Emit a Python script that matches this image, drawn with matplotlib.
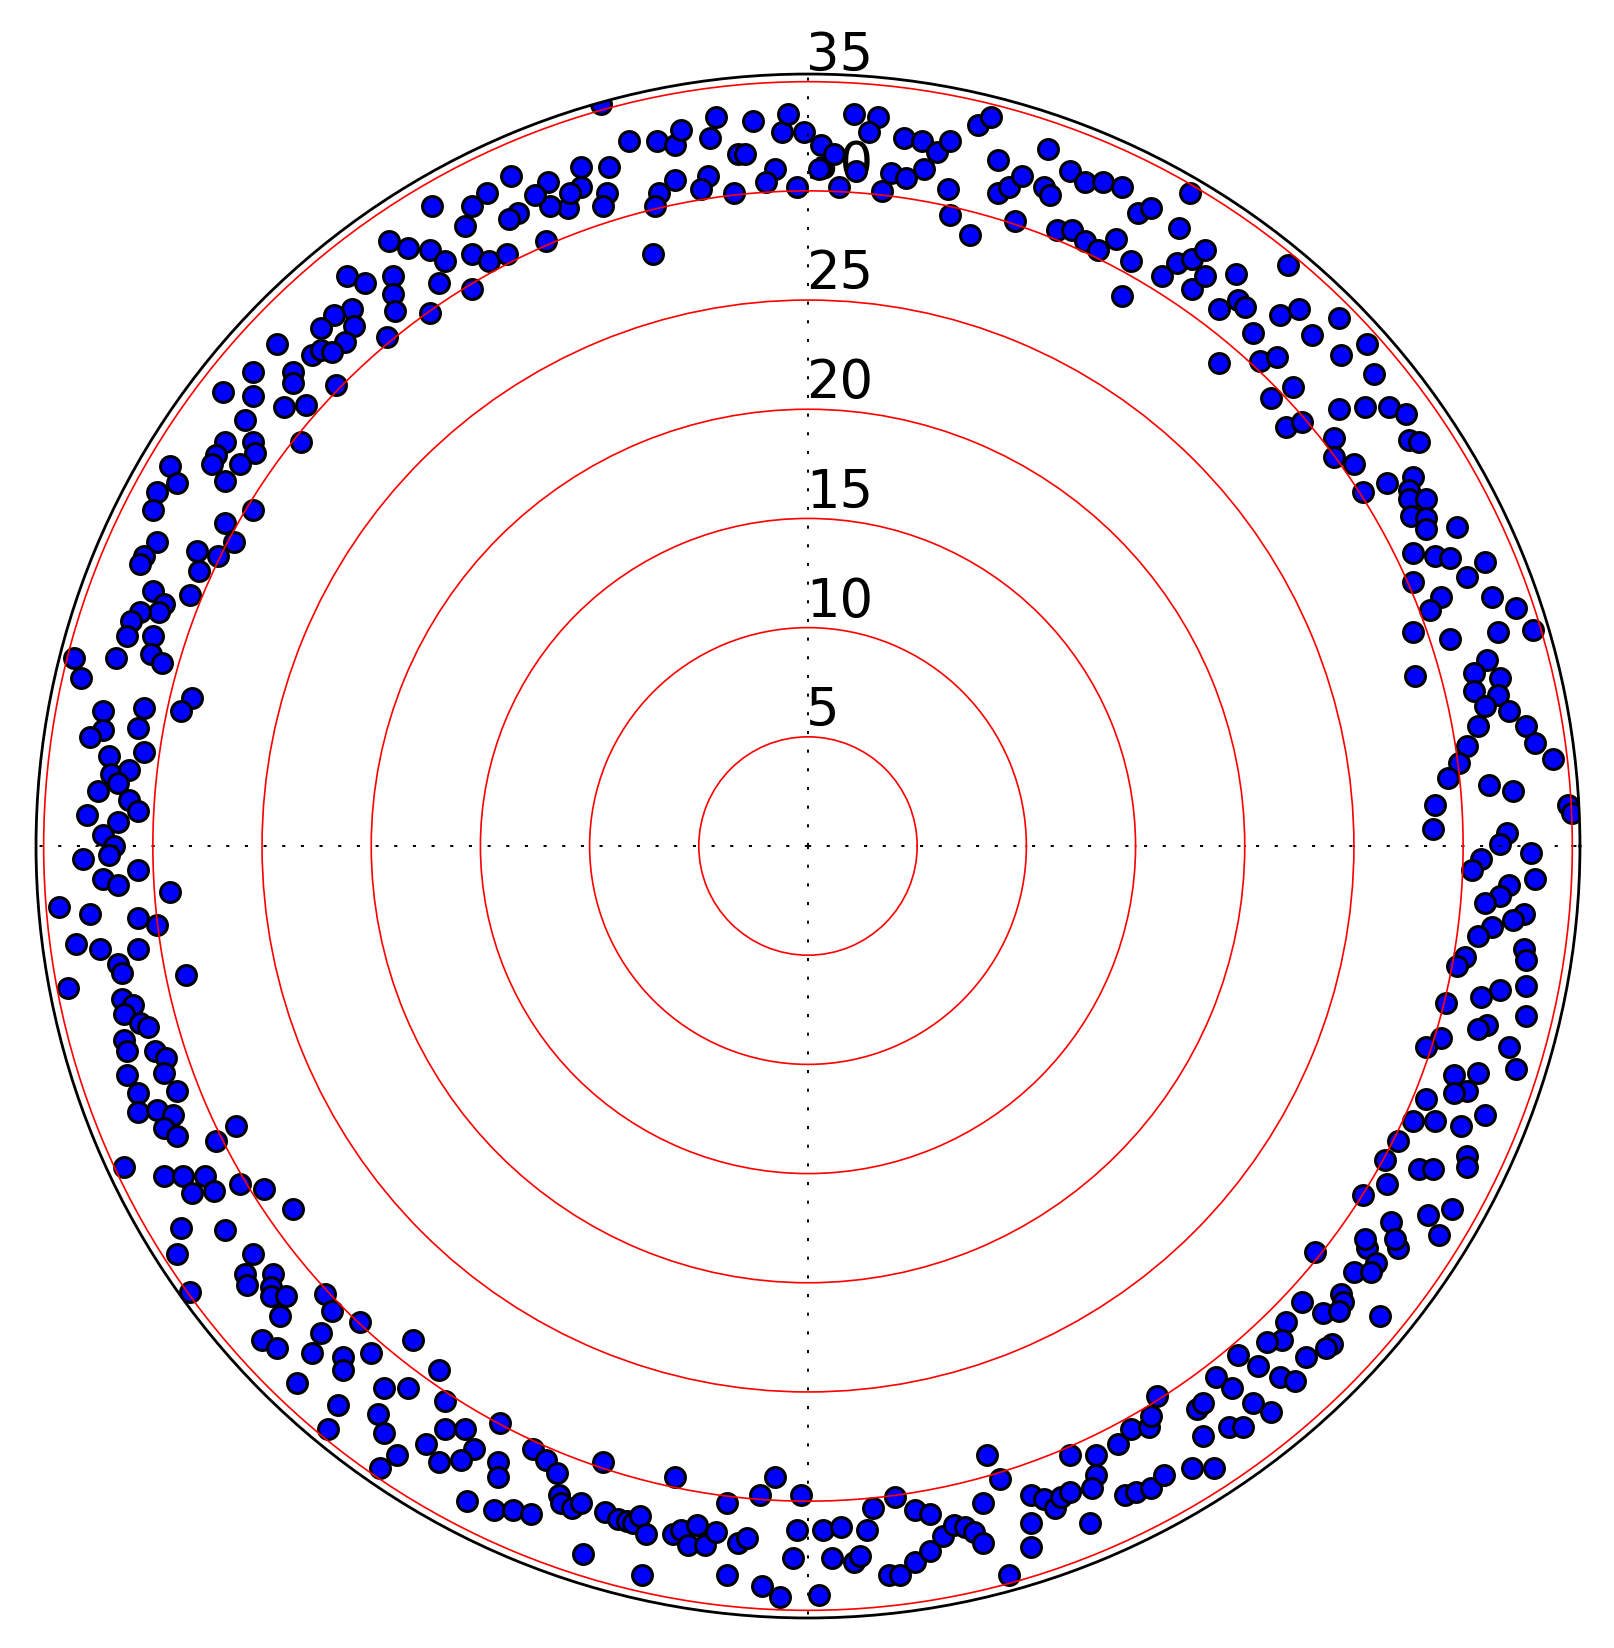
import numpy as np
import matplotlib
matplotlib.use('Agg')
import matplotlib.pyplot as plt
import matplotlib.transforms as mtransforms

# point positions, as x / y in radial units
# (x to the right, y up, origin at the centre of the polar plot)
top_left = [
    (-9.5, 34.0), (-8.2, 32.3), (-6.9, 32.3), (-6.1, 32.1), (-5.8, 32.8), (-4.5, 32.4), (-4.2, 33.4),
    (-2.5, 33.2), (-3.2, 31.7), (-2.9, 31.7), (-1.2, 32.7), (-0.9, 33.5), (-0.2, 32.7), (-1.5, 31.0),
    (-1.9, 30.4), (-0.5, 30.2), (-3.4, 29.9), (-4.6, 30.7), (-4.9, 30.1), (-6.1, 30.5), (-6.8, 29.9),
    (-7.0, 29.3), (-7.1, 27.1), (-9.1, 31.1), (-10.4, 31.1), (-10.4, 30.2), (-9.2, 29.9), (-9.4, 29.3),
    (-11.0, 29.2), (-10.9, 29.9), (-11.8, 29.3), (-11.9, 30.4), (-12.5, 29.8), (-13.3, 29.0),
    (-13.7, 28.7), (-13.6, 30.7), (-14.7, 29.9), (-15.4, 29.3), (-15.7, 28.4), (-17.2, 29.3),
    (-18.3, 27.4), (-17.3, 27.3), (-16.6, 26.8), (-15.4, 27.1), (-14.6, 26.8), (-13.8, 27.1),
    (-12.0, 27.7), (-16.9, 25.8), (-15.4, 25.5), (-17.3, 24.4),
]
north_west = [
    (-19.2, 27.7), (-21.1, 26.1), (-20.3, 25.8), (-19.0, 26.1), (-19.0, 25.3), (-18.9, 24.5),
    (-20.9, 24.6), (-21.7, 24.3), (-20.8, 23.8), (-22.3, 23.7), (-21.2, 23.1), (-19.3, 23.3),
    (-24.3, 23.0), (-22.7, 22.5), (-22.3, 22.7), (-21.8, 22.6), (-25.4, 21.7), (-23.6, 21.7),
    (-23.6, 21.2), (-21.6, 21.1), (-26.8, 20.8), (-25.4, 20.6), (-24.0, 20.1), (-23.0, 20.2),
]
west_upper = [
    (-25.8, 19.5), (-26.7, 18.5), (-25.4, 18.5), (-25.3, 18.0), (-27.1, 17.9), (-27.3, 17.5),
    (-26.0, 17.5), (-26.7, 16.7), (-23.2, 18.5), (-29.2, 17.4), (-28.9, 16.6), (-29.8, 16.2),
    (-30.0, 15.4), (-25.4, 15.4), (-26.7, 14.8), (-26.3, 13.9), (-27.0, 13.3), (-28.0, 13.5),
    (-27.9, 12.6), (-28.3, 11.5), (-29.8, 13.9), (-30.4, 13.3), (-30.6, 12.9), (-30.0, 11.7),
    (-29.5, 11.1), (-29.7, 10.7), (-30.6, 10.7), (-31.0, 10.3), (-31.2, 9.6), (-30.0, 9.6),
    (-30.1, 8.8), (-29.6, 8.4), (-31.7, 8.6), (-33.6, 8.6), (-33.3, 7.7), (-28.2, 6.8), (-28.7, 6.2),
    (-32.3, 6.2), (-30.4, 6.3), (-30.7, 5.4), (-32.3, 5.3), (-32.9, 5.0), (-32.0, 4.1), (-30.4, 4.3),
    (-31.9, 3.3), (-31.1, 3.5), (-31.6, 2.9), (-32.5, 2.5), (-31.1, 2.1), (-30.7, 1.6), (-33.0, 1.4),
    (-31.6, 1.1),
]
west_lower = [
    (-32.3, 0.5), (-31.8, 0.0), (-32.0, -0.4), (-33.2, -0.6), (-30.7, -1.1), (-32.3, -1.5),
    (-31.6, -1.8), (-29.2, -2.1), (-34.3, -2.8), (-32.9, -3.1), (-30.7, -3.3), (-29.8, -3.6),
    (-33.5, -4.5), (-32.4, -4.7), (-30.7, -4.7), (-31.6, -5.4), (-31.4, -5.8), (-28.5, -5.9),
    (-33.9, -6.5), (-31.4, -7.0), (-30.9, -7.3), (-31.3, -7.7), (-30.6, -8.1), (-30.2, -8.3),
    (-31.3, -8.9), (-31.2, -9.4), (-29.9, -9.4), (-29.4, -9.7), (-29.5, -10.4), (-31.2, -10.5),
    (-30.7, -11.3), (-28.9, -11.2), (-30.7, -12.2), (-29.8, -12.1), (-29.1, -12.3), (-29.5, -12.9),
    (-28.9, -13.3), (-26.2, -12.8), (-27.1, -13.5), (-31.3, -14.7), (-29.5, -15.1), (-28.6, -15.1),
    (-27.6, -15.1), (-28.2, -15.9), (-27.2, -15.8), (-26.0, -15.5), (-24.9, -15.7), (-23.6, -16.6),
    (-28.7, -17.5), (-26.7, -17.6),
]
south_west = [
    (-28.9, -18.7), (-25.4, -18.7), (-25.8, -19.6), (-25.7, -20.1), (-24.5, -19.6), (-24.6, -20.2),
    (-24.6, -20.6), (-23.9, -20.6), (-24.2, -21.5), (-28.3, -20.4), (-22.1, -20.5), (-21.8, -21.3),
    (-22.3, -22.3), (-20.5, -21.8), (-25.0, -22.6), (-24.3, -23.0), (-22.7, -23.2), (-21.3, -23.4),
    (-21.3, -24.0), (-20.0, -23.2), (-23.4, -24.6), (-19.4, -24.8), (-21.5, -25.6), (-19.7, -26.0),
    (-19.4, -26.9), (-22.0, -26.7), (-18.8, -27.9), (-19.6, -28.5),
]
bottom_left = [
    (-18.1, -22.6), (-16.9, -24.0), (-18.3, -24.8), (-16.6, -25.4), (-14.1, -26.4), (-16.6, -26.7),
    (-15.7, -26.7), (-17.5, -27.4), (-15.3, -27.6), (-16.9, -28.2), (-15.9, -28.1), (-14.2, -28.2),
    (-14.2, -28.9), (-12.6, -27.6), (-12.0, -28.1), (-11.5, -28.7), (-9.4, -28.2), (-6.1, -28.9),
    (-15.6, -30.0), (-14.4, -30.4), (-13.5, -30.4), (-12.7, -30.6), (-11.4, -29.7), (-11.3, -30.1),
    (-10.8, -30.3), (-10.4, -30.1), (-9.3, -30.5), (-8.7, -30.8), (-8.3, -30.9), (-8.0, -31.0),
    (-7.7, -30.7), (-7.4, -31.5), (-6.2, -31.5), (-5.8, -31.3), (-5.1, -31.1), (-5.5, -32.0),
    (-4.7, -32.0), (-4.2, -31.4), (-3.7, -30.1), (-2.2, -29.7), (-1.5, -28.9), (-3.2, -31.9),
    (-2.8, -31.7), (-0.5, -31.3), (-0.7, -32.6), (-0.3, -29.7), (-10.3, -32.4), (-7.6, -33.4),
    (-3.7, -33.4), (-2.1, -33.9), (-1.3, -34.4),
]
bottom_right = [
    (0.5, -34.3), (0.7, -31.3), (1.5, -31.2), (2.7, -31.3), (3.0, -30.3), (4.0, -29.8), (1.1, -32.6),
    (2.1, -32.8), (2.4, -32.5), (3.7, -33.4), (4.2, -33.4), (4.9, -32.8), (5.6, -32.3), (4.9, -30.4),
    (5.6, -30.6), (6.2, -31.6), (6.7, -31.1), (7.2, -31.2), (7.6, -31.4), (8.0, -31.9), (8.0, -30.1),
    (8.2, -27.9), (8.8, -29.0), (9.2, -33.4), (10.2, -29.7), (10.8, -29.9), (11.3, -30.3),
    (11.6, -29.8), (12.0, -29.6), (10.2, -31.0), (10.2, -32.1), (12.0, -27.9), (13.2, -27.9),
    (13.2, -28.8), (13.0, -29.4), (12.9, -31.0), (14.2, -27.4), (14.8, -26.7), (15.6, -26.6),
    (15.7, -26.1), (16.0, -25.2), (14.5, -29.7), (15.0, -29.6), (15.7, -29.4), (16.3, -28.8),
    (17.6, -28.5), (17.8, -25.8), (18.1, -25.5), (18.1, -27.0),
]
south_east = [
    (23.2, -18.6), (25.6, -18.4), (27.0, -18.4), (26.0, -19.1), (25.0, -19.5), (25.8, -19.5),
    (24.4, -20.5), (24.5, -20.9), (22.6, -20.9), (23.6, -21.4), (24.3, -21.3), (26.2, -21.5),
    (21.9, -21.8), (21.7, -22.6), (21.0, -22.7), (19.7, -23.3), (20.6, -23.8), (24.0, -22.8),
    (23.7, -23.0), (22.8, -23.4), (21.6, -24.3), (22.3, -24.5), (18.7, -24.3), (19.4, -24.8),
    (20.4, -25.5), (21.2, -25.9), (19.3, -26.6), (19.9, -26.6), (18.6, -28.5),
]
east_lower = [
    (28.6, 0.8), (32.0, 0.6), (31.7, 0.1), (33.1, -0.3), (30.8, -0.6), (30.4, -1.1), (33.3, -1.5),
    (32.1, -1.8), (31.7, -2.3), (31.0, -2.6), (32.8, -3.1), (32.3, -3.4), (31.3, -3.7), (30.7, -4.1),
    (32.8, -4.7), (32.9, -5.2), (30.1, -5.1), (29.7, -5.5), (31.7, -6.6), (30.8, -6.9), (32.9, -6.4),
    (29.2, -7.2), (32.9, -7.8), (31.1, -8.2), (30.7, -8.4), (29.0, -8.8), (28.3, -9.2), (32.1, -9.2),
    (32.4, -10.2), (29.6, -10.5), (30.7, -10.4), (30.2, -11.2), (29.6, -11.3), (28.3, -11.6),
    (27.7, -12.6), (28.7, -12.6), (29.9, -12.8), (31.0, -12.3), (27.0, -13.5), (26.4, -14.4),
    (28.0, -14.8), (28.6, -14.8), (30.2, -14.2), (30.2, -14.7), (26.5, -15.5), (25.4, -16.0),
    (26.7, -17.2), (28.4, -16.9), (29.5, -16.6), (25.5, -18.0), (26.9, -18.0), (28.9, -17.8),
]
east_upper = [
    (24.3, 20.0), (25.5, 20.1), (26.6, 20.1), (27.4, 19.8), (21.9, 19.2), (22.6, 19.4), (27.5, 18.6),
    (28.0, 18.5), (24.1, 18.7), (24.1, 17.8), (25.0, 17.5), (25.4, 16.2), (26.5, 16.6), (27.7, 16.9),
    (27.5, 16.3), (27.5, 15.9), (28.3, 15.9), (27.6, 15.1), (28.3, 15.0), (28.3, 14.5), (29.7, 14.6),
    (27.7, 13.4), (28.7, 13.3), (29.4, 13.2), (31.0, 13.0), (30.2, 12.3), (27.7, 12.1), (29.0, 11.4),
    (28.5, 10.8), (31.3, 11.4), (32.4, 10.9), (33.2, 9.9), (27.7, 9.8), (29.4, 9.5), (31.6, 9.8),
    (27.8, 7.8), (31.1, 8.5), (30.5, 7.9), (31.7, 7.7), (30.5, 7.1), (31.6, 6.9), (31.0, 6.4),
    (32.1, 6.2), (30.7, 5.5), (32.9, 5.5), (30.2, 4.6), (33.3, 4.7), (29.8, 3.8), (34.1, 4.0),
    (29.3, 3.1), (31.2, 2.8), (32.3, 2.5), (28.7, 1.9), (34.8, 1.9), (35.0, 1.5),
]
north_east = [
    (22.0, 26.6), (19.6, 26.2), (19.7, 25.0), (20.0, 24.7), (18.8, 24.6), (21.6, 24.3), (22.5, 24.6),
    (24.3, 24.2), (20.4, 23.5), (23.1, 23.4), (25.6, 23.0), (24.4, 22.5), (25.9, 21.6), (18.8, 22.1),
    (20.7, 22.2), (21.5, 22.4), (22.2, 21.0), (21.2, 20.5),
]
top_right = [
    (2.1, 33.5), (3.2, 33.4), (2.8, 32.7), (0.6, 32.1), (1.2, 31.7), (0.5, 31.0), (2.2, 30.9),
    (1.4, 30.2), (3.4, 30.0), (3.8, 30.8), (4.5, 30.6), (5.3, 31.0), (4.4, 32.4), (5.2, 32.3),
    (5.9, 31.8), (6.5, 32.3), (6.4, 30.1), (6.5, 28.9), (7.4, 28.0), (7.8, 33.0), (8.4, 33.4),
    (8.7, 31.4), (8.7, 29.9), (9.2, 30.2), (9.8, 30.7), (9.5, 28.6), (10.8, 30.2), (11.1, 29.8),
    (11.0, 31.9), (12.0, 30.9), (12.7, 30.4), (13.5, 30.4), (14.4, 30.2), (17.5, 29.9), (15.1, 29.0),
    (15.7, 29.2), (17.0, 28.3), (11.4, 28.2), (12.1, 28.2), (12.7, 27.7), (13.3, 27.3), (14.1, 27.8),
    (14.8, 26.8), (14.4, 25.2), (16.2, 26.1), (16.9, 26.7), (17.6, 26.9), (18.2, 27.3), (17.6, 25.5),
    (18.2, 26.1),
]

r_ticks = [5, 10, 15, 20, 25, 30, 35]
r_max = 35.35


def to_polar(pts):
    a = np.array(pts, dtype=float)
    return np.arctan2(a[:, 1], a[:, 0]), np.hypot(a[:, 0], a[:, 1])


fig = plt.figure(figsize=(16.15, 16.49), dpi=100)
ax = fig.add_axes([0.0223, 0.0182, 0.9560, 0.9363], projection='polar')

groups = [top_left, north_west, west_upper, west_lower, south_west, bottom_left,
          bottom_right, south_east, east_lower, east_upper, north_east, top_right]
for pts in groups:
    th, r = to_polar(pts)
    ax.plot(th, r, 'o', ms=14.3, mfc='#0000ff', mec='k', mew=2.2, zorder=2)

ax.set_ylim(0, r_max)
ax.set_axisbelow(False)
ax.set_rgrids(r_ticks, labels=[''] * len(r_ticks))
ax.set_thetagrids([0, 90, 180, 270], labels=[''] * 4)
ax.yaxis.grid(True, color='red', lw=1.2, ls='-')
ax.xaxis.grid(True, color='k', lw=1.4, ls=(0, (1.6, 8.0)))
ax.tick_params(length=0)
ax.spines['polar'].set_linewidth(2.0)
ax.spines['polar'].set_color('k')

# radial labels sit just right of the vertical axis, above each ring, under the dots
lab_tr = mtransforms.offset_copy(ax.transData, fig=fig, x=-2, y=12, units='dots')
for rt in r_ticks:
    ax.text(np.pi / 2, rt, str(rt), transform=lab_tr, ha='left', va='baseline',
            fontsize=38, color='k', zorder=1, clip_on=False)

fig.savefig('out.png', dpi=100)
